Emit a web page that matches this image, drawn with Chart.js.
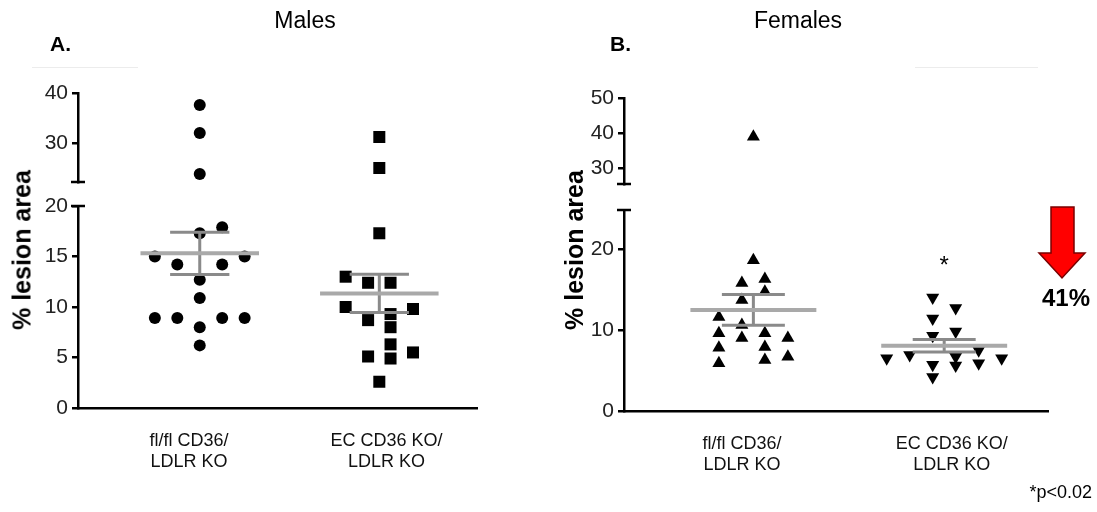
<!DOCTYPE html>
<html>
<head>
<meta charset="utf-8">
<script src="https://cdn.jsdelivr.net/npm/chart.js@4.4.1/dist/chart.umd.min.js"></script>
<style>
  html, body { margin: 0; padding: 0; background: #fff; }
  #wrap { position: relative; width: 1097px; height: 512px; overflow: hidden;
          font-family: "Liberation Sans", Arial, sans-serif; color: #000; }
  canvas { position: absolute; top: 0; }
  #cA { left: 0; }
  #cB { left: 548px; }
  .t { position: absolute; white-space: nowrap; transform: translate(-50%, -50%); line-height: 1; }
  .title { font-size: 23px; }
  .panel { font-size: 21px; font-weight: bold; transform: translate(0, -50%); }
  .ytitle { font-size: 25px; font-weight: bold; transform: translate(-50%, -50%) rotate(-90deg); }
  .pct { font-size: 24px; font-weight: bold; }
  .note { font-size: 18px; transform: translate(-100%, -50%); }
  .rule { position: absolute; height: 1px; background: #ececec; }
  svg { position: absolute; left: 0; top: 0; }
</style>
</head>
<body>
<div id="wrap">
  <canvas id="cA" width="540" height="512"></canvas>
  <canvas id="cB" width="549" height="512"></canvas>

  <div class="rule" style="left:32px; top:67px; width:106px;"></div>
  <div class="rule" style="left:915px; top:67px; width:123px;"></div>

  <div class="t title" style="left:305px; top:20px;">Males</div>
  <div class="t panel" style="left:50px; top:43px;">A.</div>
  <div class="t title" style="left:798px; top:20px;">Females</div>
  <div class="t panel" style="left:610px; top:43px;">B.</div>

  <div class="t ytitle" style="left:22px; top:250px;">% lesion area</div>
  <div class="t ytitle" style="left:574px; top:250px;">% lesion area</div>

  <svg width="1097" height="512">
    <polygon points="1051,207 1074,207 1074,253 1085,253 1062,278 1039,253 1051,253"
             fill="#ff0000" stroke="#7a0000" stroke-width="1.5" stroke-linejoin="miter"/>
  </svg>
  <div class="t pct" style="left:1066px; top:298px;">41%</div>
  <div class="t note" style="left:1092px; top:492px;">*p&lt;0.02</div>
</div>

<script>
// Category labels under each group
const groupLabels = [['fl/fl CD36/', 'LDLR KO'], ['EC CD36 KO/', 'LDLR KO']];

// Males: % lesion area per animal
const maleCtrl = [37.6, 32.0, 23.8, 17.9, 17.3, 15.0, 15.0, 14.2, 14.2, 12.7, 10.9, 8.9, 8.9, 8.9, 8.9, 8.0, 6.2];
const maleKO   = [31.2, 25.0, 17.3, 13.0, 12.4, 12.4, 10.0, 9.8, 9.3, 8.7, 8.0, 6.3, 5.5, 5.1, 4.9, 2.6];

// Females: % lesion area per animal
const femaleCtrl = [38.9, 18.6, 16.3, 15.8, 14.7, 13.7, 11.6, 10.6, 9.6, 9.6, 9.0, 9.0, 7.9, 7.8, 6.7, 6.3, 5.9];
const femaleKO   = [14.0, 12.7, 11.4, 9.8, 9.3, 7.5, 6.9, 6.7, 6.5, 6.5, 5.9, 5.7, 5.6, 4.2];

// Scatter column (in dot widths) each animal is spread to within its group
const maleCtrlCol   = [0, 0, 0, 1, 0, -2, 2, -1, 1, 0, 0, -2, -1, 1, 2, 0, 0];
const maleKOCol     = [0, 0, 0, -1.5, -0.5, 0.5, -1.5, 1.5, 0.5, -0.5, 0.5, 0.5, 1.5, -0.5, 0.5, 0];
const femaleCtrlCol = [0, 0, 0.5, -0.5, 0.5, -0.5, -1.5, -0.5, -1.5, 0.5, -0.5, 1.5, 0.5, -1.5, 1.5, 0.5, -1.5];
const femaleKOCol   = [-0.5, 0.5, -0.5, 0.5, -0.5, 1.5, -1.5, 0.5, -2.5, 2.5, 1.5, -0.5, 0.5, -0.5];

// Tick labels of the broken y axes
const maleLowTicks    = [0, 5, 10, 15, 20];
const maleHighTicks   = [30, 40];
const femaleLowTicks  = [0, 10, 20];
const femaleHighTicks = [30, 40, 50];

// x positions of the category labels (groups sit at 1 and 2)
const xTickPos = [0.94, 2.04];

const FONT = '"Liberation Sans", Arial, sans-serif';
const X_MIN = 0.322, X_MAX = 2.544;
const MEAN_HALF = 0.33, CAP_HALF = 0.165;

function stats(v) {
  const n = v.length;
  const mean = v.reduce((a, b) => a + b, 0) / n;
  const sd = Math.sqrt(v.reduce((a, b) => a + (b - mean) ** 2, 0) / (n - 1));
  return { mean, sem: sd / Math.sqrt(n) };
}

function buildDatasets(groups, cfg) {
  const ds = [];
  groups.forEach((g, gi) => {
    const cx = gi + 1;
    const low = [], high = [];
    g.values.forEach((v, i) => {
      const pt = { x: cx + g.cols[i] * cfg.slot, y: v };
      (v > cfg.lowMax ? high : low).push(pt);
    });
    const marker = {
      type: 'scatter', showLine: false, pointStyle: g.shape, pointRadius: g.radius,
      pointRotation: g.rotation || 0, pointBackgroundColor: '#000', pointBorderColor: '#000',
      pointBorderWidth: 0, order: 2
    };
    ds.push(Object.assign({}, marker, { yAxisID: 'yLow', data: low }));
    if (high.length) ds.push(Object.assign({}, marker, { yAxisID: 'yHigh', data: high }));

    const { mean, sem } = stats(g.values);
    ds.push({
      type: 'scatter', yAxisID: 'yLow', showLine: true, pointRadius: 0, spanGaps: false,
      borderColor: '#a9a9a9', borderWidth: 4, order: 0,
      data: [{ x: cx - MEAN_HALF, y: mean }, { x: cx + MEAN_HALF, y: mean }]
    });
    ds.push({
      type: 'scatter', yAxisID: 'yLow', showLine: true, pointRadius: 0, spanGaps: false,
      borderColor: '#8a8a8a', borderWidth: 3, order: 1,
      data: [
        { x: cx - CAP_HALF, y: mean + sem }, { x: cx + CAP_HALF, y: mean + sem }, { x: cx, y: null },
        { x: cx, y: mean + sem }, { x: cx, y: mean - sem }, { x: cx, y: null },
        { x: cx - CAP_HALF, y: mean - sem }, { x: cx + CAP_HALF, y: mean - sem }
      ]
    });
  });
  return ds;
}

// Draws the small caps that mark the break in the y axis, plus the significance star
const axisBreaks = {
  id: 'axisBreaks',
  afterDraw(chart, args, opts) {
    const { ctx, chartArea, scales } = chart;
    const x = chartArea.left;
    ctx.save();
    ctx.strokeStyle = '#000';
    ctx.lineWidth = 2.5;
    [scales.yHigh.bottom, scales.yLow.top].forEach(y => {
      ctx.beginPath();
      ctx.moveTo(x - 7, y);
      ctx.lineTo(x + 7, y);
      ctx.stroke();
    });
    if (opts.star) {
      ctx.fillStyle = '#000';
      ctx.font = '24px ' + FONT;
      ctx.textAlign = 'center';
      ctx.textBaseline = 'middle';
      ctx.fillText('*', scales.x.getPixelForValue(opts.star.group), scales.yLow.getPixelForValue(opts.star.value) + 5);
    }
    ctx.restore();
  }
};

function yAxis(min, max, weight, ticks) {
  return {
    type: 'linear', position: 'left', stack: 'y', stackWeight: weight, min, max,
    afterBuildTicks: s => { s.ticks = ticks.map(v => ({ value: v })); },
    afterFit: s => { s.width = 45; },
    border: { display: true, color: '#000', width: 2.5 },
    grid: { display: true, drawOnChartArea: false, drawTicks: true, tickLength: 6, color: '#000', lineWidth: 2.5 },
    ticks: { autoSkip: false, color: '#222', padding: 4, font: { family: FONT, size: 21 } }
  };
}

function makePanel(id, groups, cfg) {
  new Chart(document.getElementById(id), {
    type: 'scatter',
    data: { datasets: buildDatasets(groups, cfg) },
    plugins: [axisBreaks],
    options: {
      responsive: false,
      animation: false,
      events: [],
      layout: { padding: cfg.padding },
      plugins: { legend: { display: false }, tooltip: { enabled: false }, axisBreaks: { star: cfg.star } },
      scales: {
        x: {
          type: 'linear', position: 'bottom', min: X_MIN, max: X_MAX,
          afterBuildTicks: s => { s.ticks = xTickPos.map(v => ({ value: v })); },
          afterFit: s => { s.height = 78; },
          border: { display: true, color: '#000', width: 2.5 },
          grid: { display: false },
          ticks: {
            autoSkip: false, maxRotation: 0, padding: 14, color: '#111',
            font: { family: FONT, size: 18, lineHeight: 1.2 },
            callback: (v, i) => groupLabels[i]
          }
        },
        yLow: yAxis(0, cfg.lowMax, cfg.weights[0], cfg.lowTicks),
        yGap: {
          type: 'linear', position: 'left', stack: 'y', stackWeight: cfg.weights[1], min: 0, max: 1,
          afterFit: s => { s.width = 45; },
          border: { display: false }, grid: { display: false }, ticks: { display: false }
        },
        yHigh: yAxis(cfg.highMin, cfg.highMax, cfg.weights[2], cfg.highTicks)
      }
    }
  });
}

makePanel('cA', [
  { values: maleCtrl, cols: maleCtrlCol, shape: 'circle', radius: 6 },
  { values: maleKO, cols: maleKOCol, shape: 'rect', radius: 8.5 }
], {
  slot: 0.125, lowMax: 20, highMin: 22.2, highMax: 40,
  lowTicks: maleLowTicks, highTicks: maleHighTicks,
  weights: [202, 24, 89],
  padding: { left: 33, right: 63, top: 93, bottom: 26 }
});

makePanel('cB', [
  { values: femaleCtrl, cols: femaleCtrlCol, shape: 'triangle', radius: 7.5 },
  { values: femaleKO, cols: femaleKOCol, shape: 'triangle', radius: 7.5, rotation: 180 }
], {
  slot: 0.1205, lowMax: 24.8, highMin: 25.4, highMax: 50,
  lowTicks: femaleLowTicks, highTicks: femaleHighTicks,
  weights: [201, 26, 86],
  padding: { left: 31, right: 49, top: 98, bottom: 23 },
  star: { group: 2, value: 18.4 }
});
</script>
</body>
</html>
